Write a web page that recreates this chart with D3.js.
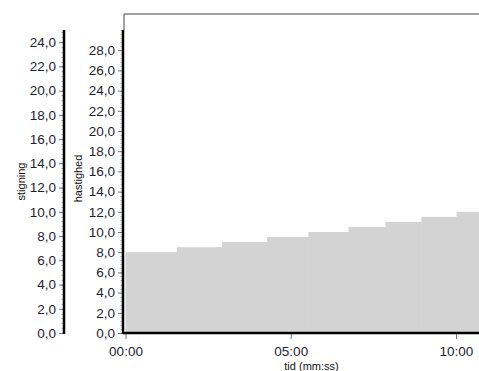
<!DOCTYPE html>
<html>
<head>
<meta charset="utf-8">
<script src="https://cdn.jsdelivr.net/npm/d3@7"></script>
<style>
  body { margin: 0; background: #fff; overflow: hidden; }
  svg { display: block; font-family: "Liberation Sans", Arial, sans-serif; }
  .tick text { fill: #1e1e30; }
</style>
</head>
<body>
<svg id="chart" width="479" height="371"></svg>
<script>
// stage start/end times (seconds) and speed (km/h) per stage
const stageStart = [0, 93, 175, 257, 332, 405, 472, 537, 601];
const stageEnd   = [93, 175, 257, 332, 405, 472, 537, 601, 670];
const speed      = [8.0, 8.5, 9.0, 9.5, 10.0, 10.5, 11.0, 11.5, 12.0];
const xTicks = [0, 300, 600];
const speedTicks = d3.range(0, 29, 2);
const inclineTicks = d3.range(0, 25, 2);

const svg = d3.select("#chart");
const plotTop = 14, axisTop = 30, bottom = 333;
const plotLeft = 124, plotRight = 499;

const x = d3.scaleLinear().domain([0, 679]).range([125.5, 499.5]);
const ySpeed = d3.scaleLinear().domain([0, 30]).range([bottom, axisTop]);
const yIncl = d3.scaleLinear().domain([0, 25]).range([bottom, axisTop]);
const fmt = d3.format(".1f");
const comma = (d) => fmt(d).replace(".", ",");
const mmss = (s) => d3.format("02")(Math.floor(s / 60)) + ":" + d3.format("02")(s % 60);

// frame
svg.append("path")
  .attr("d", `M${plotLeft},${axisTop}V${plotTop}H${plotRight}`)
  .attr("fill", "none").attr("stroke", "#444").attr("stroke-width", 1);

// speed steps
const stages = speed.map((v, i) => ({v, t0: stageStart[i], t1: stageEnd[i]}));
svg.append("g").selectAll("rect")
  .data(stages)
  .enter().append("rect")
  .attr("x", (d) => x(d.t0))
  .attr("width", (d) => x(d.t1) - x(d.t0) + 0.5)
  .attr("y", (d) => ySpeed(d.v))
  .attr("height", (d) => bottom - ySpeed(d.v))
  .attr("fill", "#d3d3d3");

// minor ticks helper
function minor(g, scale, xPos, step) {
  const vals = d3.range(0, scale.domain()[1] + 1e-9, step);
  g.append("g").selectAll("line")
    .data(vals)
    .enter().append("line")
    .attr("x1", xPos - 2.5).attr("x2", xPos)
    .attr("y1", (d) => Math.round(scale(d)) + 0.5)
    .attr("y2", (d) => Math.round(scale(d)) + 0.5)
    .attr("stroke", "#b5b5b5").attr("stroke-width", 1);
}

function styleAxis(g) {
  g.select(".domain").remove();
  g.selectAll(".tick line").attr("stroke", "#777");
  g.selectAll(".tick text").style("font-size", "13.5px");
}

// incline axis (left)
const gIncl = svg.append("g").attr("transform", "translate(64,0)");
minor(gIncl, yIncl, 0, 0.4);
gIncl.call(d3.axisLeft(yIncl).tickValues(inclineTicks).tickFormat(comma).tickSize(5).tickPadding(3))
  .call(styleAxis);
gIncl.append("line").attr("x1", 0).attr("x2", 0).attr("y1", axisTop).attr("y2", bottom + 1)
  .attr("stroke", "#000").attr("stroke-width", 2.5);

// speed axis
const gSpeed = svg.append("g").attr("transform", "translate(123,0)");
minor(gSpeed, ySpeed, 0, 0.4);
gSpeed.call(d3.axisLeft(ySpeed).tickValues(speedTicks).tickFormat(comma).tickSize(5).tickPadding(3))
  .call(styleAxis);
gSpeed.append("line").attr("x1", 0).attr("x2", 0).attr("y1", axisTop).attr("y2", bottom + 1)
  .attr("stroke", "#000").attr("stroke-width", 2.5);

// time axis
const gX = svg.append("g").attr("transform", `translate(0,${bottom})`);
gX.call(d3.axisBottom(x).tickValues(xTicks).tickFormat(mmss).tickSize(6).tickPadding(4))
  .call(styleAxis);
gX.selectAll(".tick text").attr("dy", "0.95em");
gX.append("line").attr("x1", plotLeft - 1).attr("x2", plotRight).attr("y1", 0).attr("y2", 0)
  .attr("stroke", "#000").attr("stroke-width", 2.5);

// titles
svg.append("text")
  .attr("transform", "translate(21,181.5) rotate(-90)")
  .attr("text-anchor", "middle").attr("dominant-baseline", "central")
  .style("font-size", "11px").attr("fill", "#111").text("stigning");
svg.append("text")
  .attr("transform", "translate(78,178.5) rotate(-90)")
  .attr("text-anchor", "middle").attr("dominant-baseline", "central")
  .style("font-size", "11px").attr("fill", "#111").text("hastighed");
svg.append("text")
  .attr("x", (plotLeft + plotRight) / 2).attr("y", 370)
  .attr("text-anchor", "middle")
  .style("font-size", "11px").attr("fill", "#111").text("tid (mm:ss)");
</script>
</body>
</html>
